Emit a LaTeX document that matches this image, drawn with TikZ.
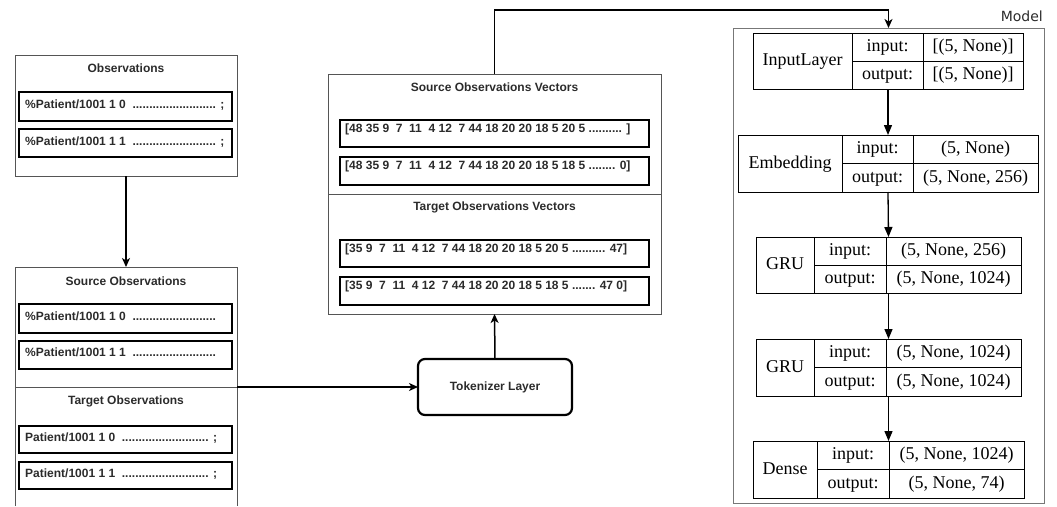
\documentclass[tikz,border=0pt]{standalone}
\usepackage{fontspec}
\setmainfont{Liberation Sans}
\newfontfamily\kerasserif{Liberation Serif}
\newfontfamily\labelsans{DejaVu Sans}
\usetikzlibrary{arrows.meta}

\definecolor{framegray}{HTML}{555555}
\definecolor{textgray}{HTML}{2B2B2B}
\definecolor{modelgray}{HTML}{777777}

% a box given by its corners: style, name, left, top, right, bottom
\newcommand\cornerbox[6]{%
  \node[#1, minimum width={#5-#3}, minimum height={#6-#4}] (#2) at ({(#3+#5)/2},{(#4+#6)/2}) {};}

% one Keras layer table: name, left, top, right, bottom, first split, second split, layer
\newcommand\kerastable[8]{%
  \cornerbox{tablebox}{#1}{#2}{#3}{#4}{#5}
  \draw[tableline] (#6,#3) -- (#6,#5) (#7,#3) -- (#7,#5) (#6,{(#3+#5)/2}) -- (#4,{(#3+#5)/2});
  \node[celltext] (#1-name) at ({(#2+#6)/2},{(#3+#5)/2}) {#8};
  \node[celltext] (#1-inkey) at ({(#6+#7)/2},{(3*#3+#5)/4}) {input:};
  \node[celltext] (#1-outkey) at ({(#6+#7)/2},{(#3+3*#5)/4}) {output:};
  \coordinate (#1-inval) at ({(#7+#4)/2},{(3*#3+#5)/4});
  \coordinate (#1-outval) at ({(#7+#4)/2},{(#3+3*#5)/4});}

\begin{document}
\begin{tikzpicture}[x=1pt,y=-1pt,
  outerbox/.style={draw=framegray, line width=0.9pt, inner sep=0pt, outer sep=0pt},
  frameline/.style={draw=framegray, line width=0.9pt},
  rowbox/.style={draw=black, line width=2.6pt, inner sep=0pt, outer sep=0pt},
  tokbox/.style={draw=black, line width=2.2pt, rounded corners=7pt, inner sep=0pt, outer sep=0pt,
    font=\fontsize{12}{14}\selectfont\bfseries, text=textgray},
  boxtitle/.style={font=\fontsize{12}{14}\selectfont\bfseries, text=textgray, inner sep=0pt},
  rowtext/.style={font=\fontsize{12}{14}\selectfont\bfseries, text=textgray, anchor=west,
    inner sep=0pt, text height=9pt, text depth=2.5pt},
  conn/.style={draw=black, line width=1.5pt, -{Stealth[length=9pt,width=8pt,inset=2.5pt]}},
  modelframe/.style={draw=modelgray, line width=1pt, inner sep=0pt, outer sep=0pt},
  tablebox/.style={draw=black, line width=1pt, inner sep=0pt, outer sep=0pt},
  tableline/.style={draw=black, line width=1pt},
  celltext/.style={font=\kerasserif\fontsize{18}{20}\selectfont, inner sep=0pt,
    text height=13pt, text depth=4pt},
  modelarrow/.style={draw=black, line width=1.3pt, -{Triangle[length=10pt,width=8pt]}},
]
\useasboundingbox (0,0) rectangle (1057,506);

% ---- raw observations ----
\cornerbox{outerbox}{obs}{15}{55}{237}{176}
\node[boxtitle] (obs-title) at (126,68) {Observations};
\cornerbox{rowbox}{obs1}{19}{92}{232}{121}
\node[rowtext] (obs1-t) at (25,105) {\%Patient/1001 1 0~~......................... ;};
\cornerbox{rowbox}{obs2}{19}{129}{232}{157}
\node[rowtext] (obs2-t) at (25,142) {\%Patient/1001 1 1~~......................... ;};

% ---- source / target observations (runs off the bottom edge) ----
\node[inner sep=0pt, outer sep=0pt, minimum width=222, minimum height=239] (src) at (126,386.5) {};
\draw[frameline] (src.south west) -- (src.north west) -- (src.north east) -- (src.south east);
\draw[frameline] (15,387) -- (237,387);
\node[boxtitle] (src-title) at (126,281) {Source Observations};
\cornerbox{rowbox}{src1}{19}{304}{232}{333}
\node[rowtext] (src1-t) at (25,317) {\%Patient/1001 1 0~~.........................};
\cornerbox{rowbox}{src2}{19}{341}{232}{369}
\node[rowtext] (src2-t) at (25,353) {\%Patient/1001 1 1~~.........................};
\node[boxtitle] (tgt-title) at (126,401) {Target Observations};
\cornerbox{rowbox}{tgt1}{19}{426}{232}{453}
\node[rowtext] (tgt1-t) at (25,438) {Patient/1001 1 0~~.......................... ;};
\cornerbox{rowbox}{tgt2}{19}{462}{232}{489}
\node[rowtext] (tgt2-t) at (25,474) {Patient/1001 1 1~~.......................... ;};

% ---- tokenizer ----
\cornerbox{tokbox}{tok}{418}{359}{572}{415}
\node[font=\fontsize{12}{14}\selectfont\bfseries, text=textgray, inner sep=0pt] (tok-t) at (tok.center) {Tokenizer Layer};

% ---- tokenized vectors ----
\cornerbox{outerbox}{vec}{328}{74}{661}{314}
\draw[frameline] (328,194) -- (661,194);
\node[boxtitle] (vsrc-title) at (494.5,87) {Source Observations Vectors};
\cornerbox{rowbox}{vec1}{340}{120}{649}{147}
\node[rowtext] (vec1-t) at (345,129) {[48 35 9~~7~~11~~4 12~~7 44 18 20 20 18 5 20 5 .......... ]};
\cornerbox{rowbox}{vec2}{340}{157}{649}{185}
\node[rowtext] (vec2-t) at (345,166) {[48 35 9~~7~~11~~4 12~~7 44 18 20 20 18 5 18 5 ........ 0]};
\node[boxtitle] (vtgt-title) at (494.5,207) {Target Observations Vectors};
\cornerbox{rowbox}{vec3}{340}{240}{649}{267}
\node[rowtext] (vec3-t) at (345,249) {[35 9~~7~~11~~4 12~~7 44 18 20 20 18 5 20 5 .......... 47]};
\cornerbox{rowbox}{vec4}{340}{277}{649}{305}
\node[rowtext] (vec4-t) at (345,286) {[35 9~~7~~11~~4 12~~7 44 18 20 20 18 5 18 5 ....... 47 0]};

% ---- model ----
\cornerbox{modelframe}{model}{733}{28}{1044}{503}
\node[font=\labelsans\fontsize{14}{16}\selectfont, text=textgray, anchor=base east, inner sep=0pt]
  (model-label) at (1043,21) {Model};

\kerastable{inl}{753}{33}{1023}{89}{852}{923}{InputLayer}
\node[celltext] at (inl-inval) {[(5, None)]};
\node[celltext] at (inl-outval) {[(5, None)]};

\kerastable{emb}{738}{135}{1038}{192}{842}{913}{Embedding}
\node[celltext] at (emb-inval) {(5, None)};
\node[celltext] at (emb-outval) {(5, None, 256)};

\kerastable{gru1}{756}{237}{1021}{293}{814}{886}{GRU}
\node[celltext] at (gru1-inval) {(5, None, 256)};
\node[celltext] at (gru1-outval) {(5, None, 1024)};

\kerastable{gru2}{756}{339}{1021}{396}{814}{886}{GRU}
\node[celltext] at (gru2-inval) {(5, None, 1024)};
\node[celltext] at (gru2-outval) {(5, None, 1024)};

\kerastable{dense}{753}{441}{1024}{498}{817}{889}{Dense}
\node[celltext] at (dense-inval) {(5, None, 1024)};
\node[celltext] at (dense-outval) {(5, None, 74)};

% ---- connectors ----
\draw[conn] (obs.south) -- (src.north);
\draw[conn] (src.east |- tok.west) -- (tok.west);
\draw[conn] (tok.north) -- (vec.south);
\draw[conn] (vec.north) -- ++(0,-64) -| (model.north);
\draw[modelarrow] (inl.south) -- (emb.north);
\draw[modelarrow] (emb.south) -- (gru1.north);
\draw[modelarrow] (gru1.south) -- (gru2.north);
\draw[modelarrow] (gru2.south) -- (dense.north);
\end{tikzpicture}
\end{document}
